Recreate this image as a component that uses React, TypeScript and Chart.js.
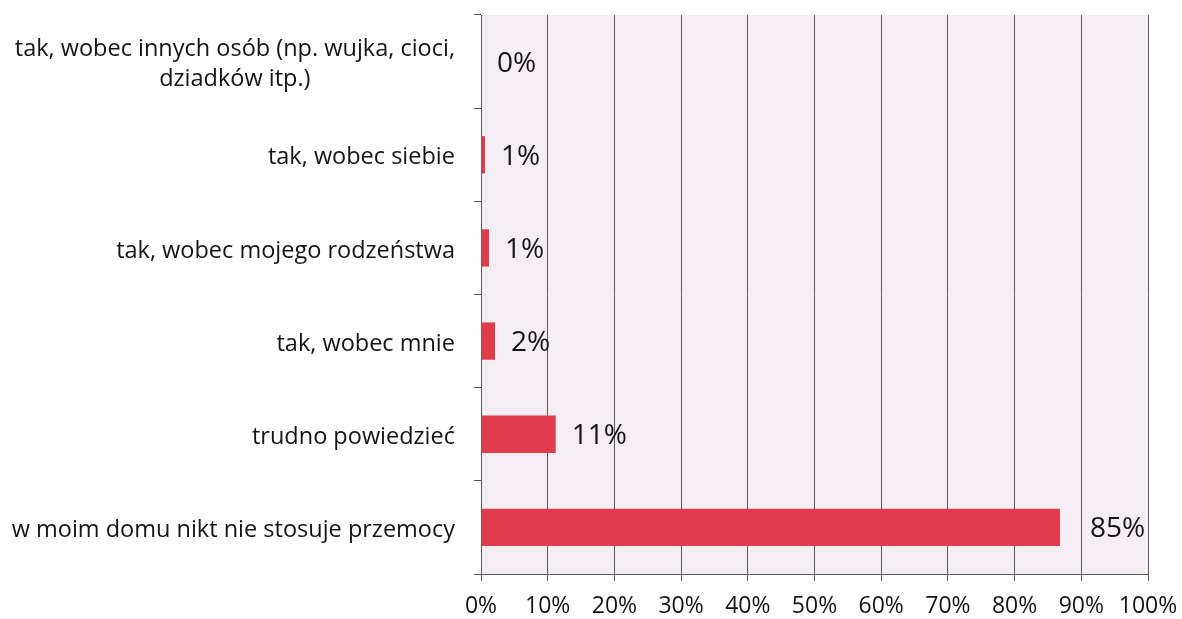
import React, { useEffect, useRef } from "react";
import { Chart, registerables } from "chart.js";

Chart.register(...registerables);

const categories: string[][] = [
  ["tak, wobec innych osób (np. wujka, cioci,", "dziadków itp.)"],
  ["tak, wobec siebie"],
  ["tak, wobec mojego rodzeństwa"],
  ["tak, wobec mnie"],
  ["trudno powiedzieć"],
  ["w moim domu nikt nie stosuje przemocy"],
];
const values: number[] = [0, 0.6, 1.2, 2.1, 11.2, 86.8];
const valueLabels: string[] = ["0%", "1%", "1%", "2%", "11%", "85%"];
const xTicks: number[] = [0, 10, 20, 30, 40, 50, 60, 70, 80, 90, 100];

const FONT = "'Open Sans', Lato, sans-serif";

const bgPlugin = {
  id: "plotBg",
  beforeDraw(chart: any) {
    const { ctx, chartArea } = chart;
    ctx.save();
    ctx.fillStyle = "#f4edf4";
    ctx.fillRect(chartArea.left, chartArea.top, chartArea.right - chartArea.left, chartArea.bottom - chartArea.top);
    ctx.restore();
  },
};

const labelsPlugin = {
  id: "customLabels",
  afterDraw(chart: any) {
    const { ctx } = chart;
    const yScale = chart.scales.y;
    ctx.save();
    ctx.fillStyle = "#141414";
    ctx.font = `23.5px ${FONT}`;
    ctx.textBaseline = "middle";
    const rightEdge = yScale.right - 26;
    categories.forEach((lines, i) => {
      const cy = yScale.getPixelForValue(i) + 3;
      const lh = 30;
      const widths = lines.map((l) => ctx.measureText(l).width);
      const maxW = Math.max(...widths);
      const center = rightEdge - maxW / 2;
      ctx.textAlign = "center";
      lines.forEach((l, j) => {
        const y = cy + (j - (lines.length - 1) / 2) * lh;
        ctx.fillText(l, center, y);
      });
    });
    const meta = chart.getDatasetMeta(0);
    ctx.font = `28px ${FONT}`;
    ctx.textAlign = "left";
    meta.data.forEach((bar: any, i: number) => {
      const off = i === values.length - 1 ? 30 : 16;
      ctx.fillText(valueLabels[i], bar.x + off, bar.y + 2);
    });
    ctx.restore();
  },
};

export default function App() {
  const ref = useRef<HTMLCanvasElement | null>(null);
  useEffect(() => {
    document.body.style.margin = "0";
    const c = new Chart(ref.current as HTMLCanvasElement, {
      type: "bar",
      data: {
        labels: categories.map((c) => c.join(" ")),
        datasets: [
          {
            data: values,
            backgroundColor: "#e03c4c",
            borderWidth: 0,
            barPercentage: 0.4,
            categoryPercentage: 1,
          },
        ],
      },
      options: {
        indexAxis: "y",
        animation: false,
        responsive: false,
        layout: { padding: { top: 15, right: 34, left: 0, bottom: 0 } },
        plugins: { legend: { display: false }, tooltip: { enabled: false } },
        scales: {
          x: {
            min: 0,
            max: 100,
            afterBuildTicks(scale: any) {
              scale.ticks = xTicks.map((v) => ({ value: v }));
            },
            afterFit(scale: any) {
              scale.height = 45;
              scale.paddingLeft = 0;
              scale.paddingRight = 0;
            },
            grid: { color: "#5a5a5a", lineWidth: 1, tickLength: 7 },
            border: { color: "#5a5a5a" },
            ticks: {
              color: "#141414",
              font: { family: FONT, size: 23 },
              padding: 12,
              callback: (v: any) => `${v}%`,
            },
          },
          y: {
            afterFit(scale: any) {
              scale.width = 481;
            },
            grid: { drawOnChartArea: false, color: "#5a5a5a", tickLength: 7, offset: true },
            border: { color: "#5a5a5a" },
            ticks: { display: false },
          },
        },
      },
      plugins: [bgPlugin, labelsPlugin],
    });
    return () => c.destroy();
  }, []);
  return <canvas ref={ref} width={1182} height={619} style={{ display: "block" }} />;
}
